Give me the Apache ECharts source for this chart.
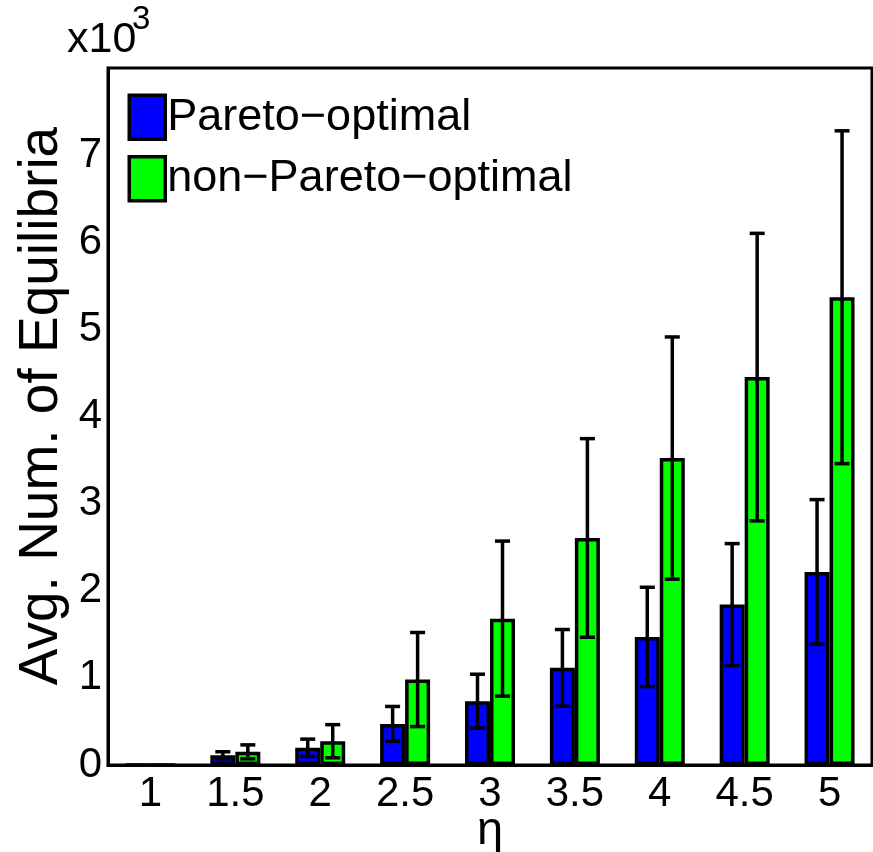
<!DOCTYPE html>
<html>
<head>
<meta charset="utf-8">
<script src="https://cdn.jsdelivr.net/npm/echarts@6/dist/echarts.min.js"></script>
<style>
html,body{margin:0;padding:0;background:#fff;}
#chart{width:873px;height:852px;}
</style>
</head>
<body>
<div id="chart"></div>
<script>
// eta values on the horizontal axis
const etaLabels = ['1', '1.5', '2', '2.5', '3', '3.5', '4', '4.5', '5'];
// average number of equilibria (in thousands) with error-bar half widths
const paretoMean = [0, 0.112, 0.197, 0.472, 0.732, 1.115, 1.470, 1.841, 2.216];
const paretoErr = [0, 0.04, 0.10, 0.20, 0.31, 0.44, 0.57, 0.70, 0.83];
const nonParetoMean = [0, 0.151, 0.273, 0.981, 1.680, 2.606, 3.523, 4.452, 5.369];
const nonParetoErr = [0, 0.08, 0.19, 0.54, 0.89, 1.14, 1.39, 1.65, 1.91];
const yTicks = [0, 1, 2, 3, 4, 5, 6, 7];
const seriesNames = ['Pareto−optimal', 'non−Pareto−optimal'];

const FONT = 'Liberation Sans, Arial, sans-serif';
const BAR_W = 25;

function errorSeries(name, means, errs, side) {
  const data = means.map((m, i) => [i, m - errs[i], m + errs[i]]);
  return {
    name: name + ' err',
    type: 'custom',
    z: 10,
    silent: true,
    data: data,
    renderItem: function (params, api) {
      const i = api.value(0);
      if (errs[i] === 0) return null;
      const lo = api.coord([i, api.value(1)]);
      const hi = api.coord([i, api.value(2)]);
      const x = lo[0] + side * BAR_W / 2;
      const cap = 7.5;
      const style = { stroke: '#000', lineWidth: 3.5 };
      return {
        type: 'group',
        children: [
          { type: 'line', shape: { x1: x, y1: lo[1], x2: x, y2: hi[1] }, style: style },
          { type: 'line', shape: { x1: x - cap, y1: lo[1], x2: x + cap, y2: lo[1] }, style: style },
          { type: 'line', shape: { x1: x - cap, y1: hi[1], x2: x + cap, y2: hi[1] }, style: style }
        ]
      };
    }
  };
}

const chart = echarts.init(document.getElementById('chart'), null, { renderer: 'canvas' });
chart.setOption({
  animation: false,
  backgroundColor: '#fff',
  textStyle: { fontFamily: FONT },
  grid: {
    left: 108, top: 68, right: 1, bottom: 87,
    containLabel: false,
    outerBoundsMode: 'none',
    show: true, borderColor: '#000', borderWidth: 3, backgroundColor: 'transparent'
  },
  legend: {
    left: 127.5, top: 93.5,
    padding: 0,
    orient: 'vertical',
    icon: 'rect',
    itemWidth: 36, itemHeight: 44, itemGap: 14,
    data: seriesNames,
    textStyle: { fontFamily: FONT, fontSize: 45, color: '#000', padding: [0, 0, 0, -3] },
    itemStyle: { borderColor: '#000', borderWidth: 3.5 }
  },
  xAxis: {
    type: 'category',
    data: etaLabels,
    axisLine: { lineStyle: { color: '#000', width: 3 } },
    axisTick: { show: false },
    axisLabel: { fontFamily: FONT, fontSize: 42, color: '#000', margin: 8 }
  },
  yAxis: {
    type: 'value',
    min: 0, max: 8, interval: 1,
    axisLine: { show: true, lineStyle: { color: '#000', width: 3 } },
    axisTick: { show: false },
    splitLine: { show: false },
    axisLabel: {
      fontFamily: FONT, fontSize: 42, color: '#000', margin: 6,
      formatter: v => (yTicks.indexOf(v) >= 0) ? String(v) : ''
    }
  },
  graphic: [
    {
      type: 'text',
      x: 42, y: 406,
      rotation: Math.PI / 2,
      style: {
        text: 'Avg. Num. of Equilibria',
        fontFamily: FONT, fontSize: 55, fill: '#000',
        align: 'center', verticalAlign: 'middle'
      }
    },
    {
      type: 'text',
      x: 490, y: 831,
      style: {
        text: 'η', fontFamily: FONT, fontSize: 47, fill: '#000',
        align: 'center', verticalAlign: 'middle'
      }
    },
    {
      type: 'text',
      x: 67, y: 40,
      style: {
        text: 'x10', fontFamily: FONT, fontSize: 43, fill: '#000',
        align: 'left', verticalAlign: 'middle'
      }
    },
    {
      type: 'text',
      x: 132, y: 20,
      style: {
        text: '3', fontFamily: FONT, fontSize: 33, fill: '#000',
        align: 'left', verticalAlign: 'middle'
      }
    }
  ],
  series: [
    {
      name: seriesNames[0], type: 'bar', data: paretoMean,
      barWidth: BAR_W, barGap: '0%',
      itemStyle: { color: '#0000ff', borderColor: '#000', borderWidth: 3.5 }
    },
    {
      name: seriesNames[1], type: 'bar', data: nonParetoMean,
      barWidth: BAR_W, barGap: '0%',
      itemStyle: { color: '#00ff00', borderColor: '#000', borderWidth: 3.5 }
    },
    errorSeries(seriesNames[0], paretoMean, paretoErr, -1),
    errorSeries(seriesNames[1], nonParetoMean, nonParetoErr, 1)
  ]
});
</script>
</body>
</html>
